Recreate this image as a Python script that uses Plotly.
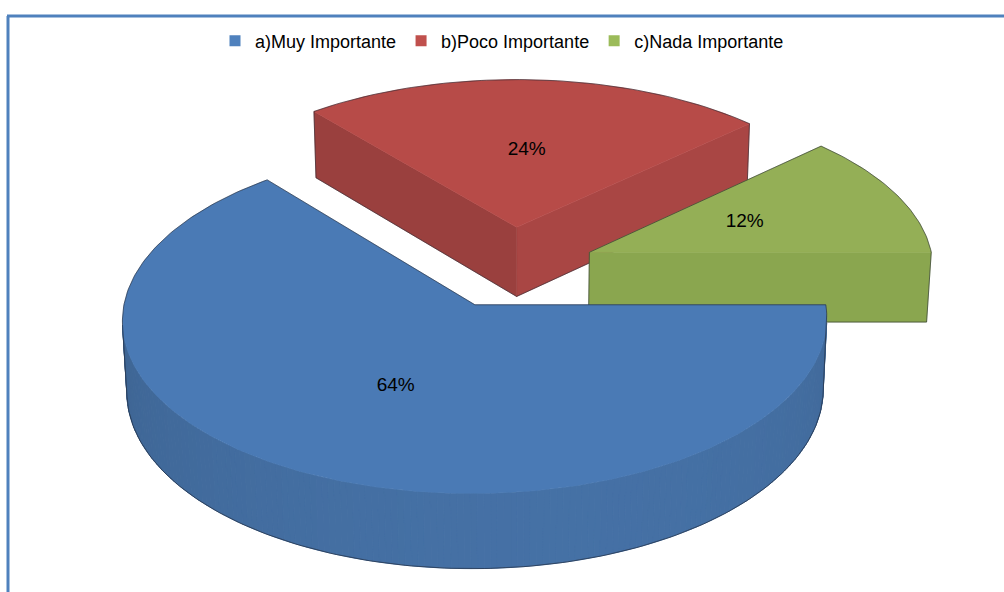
import numpy as np
import plotly.graph_objects as go

# ---- data -------------------------------------------------------------
labels = ["a)Muy Importante", "b)Poco Importante", "c)Nada Importante"]
shares = [64, 24, 12]                      # percent of answers
pct_text = ["64%", "24%", "12%"]

# ---- style ------------------------------------------------------------
base_colors = ["#4F81BD", "#C0504D", "#9BBB59"]
top_colors = ["#4A7AB5", "#B74B48", "#94AF56"]
FONT = "Liberation Sans, Arial, sans-serif"
W, H = 1004, 592

# 3-D pie solid (unit radius) seen through a perspective camera
THICK = 0.235
EXPLODE = 0.245
TILT = np.radians(30)
DIST = 10.52
FOCAL = 3583.0
CX, CY = 511.5, 337.3
cos_t, sin_t = np.cos(TILT), np.sin(TILT)
CAM = np.array([0.0, -DIST * cos_t, DIST * sin_t])
EDGE = "rgba(25,30,40,0.55)"


def project(X, Y, Z):
    X, Y, Z = np.asarray(X, float), np.asarray(Y, float), np.asarray(Z, float)
    depth = DIST + Y * cos_t - Z * sin_t
    return CX + FOCAL * X / depth, CY - FOCAL * (Y * sin_t + Z * cos_t) / depth


def shade(hexc, f):
    h = hexc.lstrip("#")
    r, g, b = (int(h[i:i + 2], 16) for i in (0, 2, 4))
    return "rgb(%d,%d,%d)" % tuple(max(0, min(255, round(c * f))) for c in (r, g, b))


def faces_camera(px, py, nx, ny):
    return nx * (CAM[0] - px) + ny * (CAM[1] - py) > 0


def hull(points):
    pts = sorted(points)

    def cross(o, a, b):
        return (a[0] - o[0]) * (b[1] - o[1]) - (a[1] - o[1]) * (b[0] - o[0])

    lower, upper = [], []
    for p in pts:
        while len(lower) >= 2 and cross(lower[-2], lower[-1], p) <= 0:
            lower.pop()
        lower.append(p)
    for p in reversed(pts):
        while len(upper) >= 2 and cross(upper[-2], upper[-1], p) <= 0:
            upper.pop()
        upper.append(p)
    return lower[:-1] + upper[:-1]


def poly(fig, xs, ys, color, lw=0.6):
    xs, ys = list(xs), list(ys)
    fig.add_trace(go.Scatter(
        x=xs + [xs[0]], y=ys + [ys[0]], mode="lines", fill="toself",
        fillcolor=color, line=dict(color=color, width=lw),
        hoverinfo="skip", showlegend=False))


def outline(fig, xs, ys):
    fig.add_trace(go.Scatter(x=list(xs), y=list(ys), mode="lines",
                             line=dict(color=EDGE, width=1),
                             hoverinfo="skip", showlegend=False))


# slice geometry: start at 3 o'clock, run clockwise
slices = []
cum = 0.0
for i, v in enumerate(shares):
    a_hi = -cum * 3.6
    a_lo = a_hi - v * 3.6
    cum += v
    mid = np.radians((a_lo + a_hi) / 2)
    ox, oy = EXPLODE * np.cos(mid), EXPLODE * np.sin(mid)
    slices.append(dict(i=i, lo=a_lo, hi=a_hi, mid=mid, ox=ox, oy=oy))

fig = go.Figure()

# paint the far slices first
for s in sorted(slices, key=lambda d: -d["oy"]):
    i, ox, oy = s["i"], s["ox"], s["oy"]
    base = base_colors[i]
    span = abs(s["hi"] - s["lo"])
    n = max(8, int(span))
    phi = np.radians(np.linspace(s["lo"], s["hi"], n + 1))
    rx, ry = ox + np.cos(phi), oy + np.sin(phi)

    # radial cut faces
    for a, sign in ((s["lo"], -1), (s["hi"], 1)):
        ar = np.radians(a)
        psi = ar + sign * np.pi / 2
        nx, ny = np.cos(psi), np.sin(psi)
        if faces_camera(ox + 0.5 * np.cos(ar), oy + 0.5 * np.sin(ar), nx, ny):
            f = 0.738 + 0.152 * (-ny) + 0.045 * nx
            X = [ox, ox + np.cos(ar), ox + np.cos(ar), ox]
            Y = [oy, oy + np.sin(ar), oy + np.sin(ar), oy]
            Z = [THICK, THICK, 0, 0]
            px, py = project(X, Y, Z)
            poly(fig, px, py, shade(base, f))

    # curved outer wall, in thin strips
    wall = []
    for k in range(n):
        pm = 0.5 * (phi[k] + phi[k + 1])
        if not faces_camera(ox + np.cos(pm), oy + np.sin(pm), np.cos(pm), np.sin(pm)):
            continue
        wall.append(k)
        f = 0.79 + 0.08 * (-np.sin(pm)) + 0.02 * np.cos(pm)
        X = [rx[k], rx[k + 1], rx[k + 1], rx[k]]
        Y = [ry[k], ry[k + 1], ry[k + 1], ry[k]]
        Z = [THICK, THICK, 0, 0]
        px, py = project(X, Y, Z)
        poly(fig, px, py, shade(base, f), lw=1.0)

    # top face
    px, py = project(np.r_[ox, rx], np.r_[oy, ry], np.full(n + 2, THICK))
    poly(fig, px, py, top_colors[i], lw=0.5)

    # thin dark silhouette
    if span <= 180 or not wall:
        ax, ay = project(np.r_[ox, rx, ox, rx], np.r_[oy, ry, oy, ry],
                         np.r_[np.full(n + 2, THICK), np.zeros(n + 2)])
        hp = hull(list(zip(ax.tolist(), ay.tolist())))
        outline(fig, [p[0] for p in hp] + [hp[0][0]], [p[1] for p in hp] + [hp[0][1]])
    else:
        k1, k2 = wall[0], wall[-1] + 1
        tx, ty = project(rx, ry, np.full(n + 1, THICK))
        bx, by = project(rx, ry, np.zeros(n + 1))
        cx, cy = project([ox], [oy], [THICK])
        xs = [cx[0]] + list(tx[:k1 + 1]) + list(bx[k1:k2 + 1]) + list(tx[k2:]) + [cx[0]]
        ys = [cy[0]] + list(ty[:k1 + 1]) + list(by[k1:k2 + 1]) + list(ty[k2:]) + [cy[0]]
        outline(fig, xs, ys)

# percentage labels on the top faces
lx, ly = project([s["ox"] + 0.5 * np.cos(s["mid"]) for s in slices],
                 [s["oy"] + 0.5 * np.sin(s["mid"]) for s in slices],
                 [THICK] * len(slices))
fig.add_trace(go.Scatter(x=lx, y=ly, mode="text", text=pct_text,
                         textfont=dict(family=FONT, size=19, color="#000000"),
                         hoverinfo="skip", showlegend=False))

# legend entries
for lab, col in zip(labels, base_colors):
    fig.add_trace(go.Scatter(x=[None], y=[None], mode="markers", name=lab,
                             marker=dict(symbol="square", size=11, color=col),
                             showlegend=True))

frame = "#4F81BD"
fig.update_layout(
    width=W, height=H, autosize=False,
    margin=dict(l=0, r=0, t=0, b=0),
    paper_bgcolor="white", plot_bgcolor="white",
    xaxis=dict(range=[0, W], visible=False, fixedrange=True),
    yaxis=dict(range=[H, 0], visible=False, fixedrange=True),
    showlegend=True,
    legend=dict(orientation="h", x=0.5, xanchor="center", y=1 - 41 / H,
                yanchor="middle", traceorder="normal",
                font=dict(family=FONT, size=18, color="#000000"),
                bgcolor="rgba(0,0,0,0)"),
    shapes=[
        dict(type="line", xref="x", yref="y", x0=7, y0=16, x1=W, y1=16,
             line=dict(color=frame, width=3)),
        dict(type="line", xref="x", yref="y", x0=8, y0=16, x1=8, y1=H,
             line=dict(color=frame, width=3)),
    ],
)

fig.write_html("out.html")
